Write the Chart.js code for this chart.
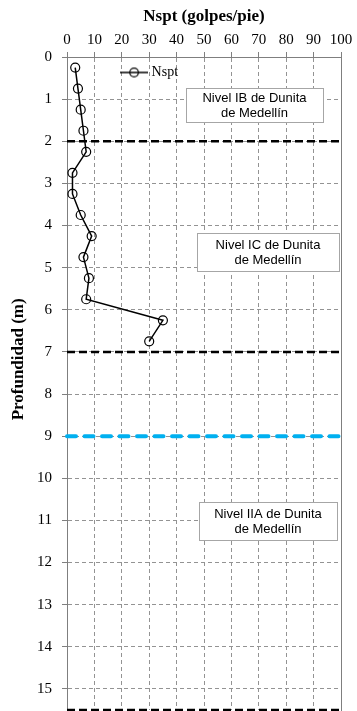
<!DOCTYPE html>
<html>
<head>
<meta charset="utf-8">
<script src="https://cdn.jsdelivr.net/npm/chart.js@4/dist/chart.umd.min.js"></script>
<style>
  html, body { margin: 0; padding: 0; background: #fff; }
  canvas { display: block; }
</style>
</head>
<body>
<canvas id="spt" width="357" height="711"></canvas>
<script>
// SPT blow counts (golpes/pie) against sample depth (m)
const depths = [0.25, 0.75, 1.25, 1.75, 2.25, 2.75, 3.25, 3.75, 4.25, 4.75, 5.25, 5.75, 6.25, 6.75];
const nspt   = [3, 4, 5, 6, 7, 2, 2, 5, 9, 6, 8, 7, 35, 30];

// Axis tick values
const nsptTicks  = [0, 10, 20, 30, 40, 50, 60, 70, 80, 90, 100];
const depthTicks = [0, 1, 2, 3, 4, 5, 6, 7, 8, 9, 10, 11, 12, 13, 14, 15];
const depthMax = 15.5;

// Horizontal boundaries between units, and the water level
const contactDepths = [2, 7, 15.5];
const waterLevelDepth = 9;

// Unit labels and the boxes they sit in (in axis units)
const unitNames = [
  ['Nivel IB de Dunita', 'de Medellín'],
  ['Nivel IC de Dunita', 'de Medellín'],
  ['Nivel IIA de Dunita', 'de Medellín']
];
const unitBoxes = [
  { x0: 43.4, x1: 93.5, y0: 0.73, y1: 1.54 },
  { x0: 47.5, x1: 99.4, y0: 4.18, y1: 5.08 },
  { x0: 48.2, x1: 98.6, y0: 10.57, y1: 11.46 }
];

const SERIF = '"Liberation Serif", "Times New Roman", serif';
const SANS = '"Liberation Sans", Arial, sans-serif';
const GRID = '#939393';
const AXIS = '#7f7f7f';

// Line-with-circle swatch used as the legend marker
function legendSwatch() {
  const c = document.createElement('canvas');
  c.width = 28; c.height = 12;
  const g = c.getContext('2d');
  g.strokeStyle = '#000';
  g.lineWidth = 1.5;
  g.beginPath(); g.moveTo(0, 6); g.lineTo(28, 6); g.stroke();
  g.lineWidth = 1.2;
  g.beginPath(); g.arc(14, 6, 4.3, 0, Math.PI * 2); g.stroke();
  return c;
}
const swatch = legendSwatch();

function hLine(depth) {
  return [{ x: 0, y: depth }, { x: 100, y: depth }];
}

const datasets = [
  {
    label: 'Nspt',
    data: depths.map((d, i) => ({ x: nspt[i], y: d })),
    showLine: true,
    borderColor: '#000',
    borderWidth: 1.5,
    pointRadius: 4.5,
    pointBorderWidth: 1.2,
    pointBorderColor: '#000',
    pointBackgroundColor: 'rgba(0,0,0,0)',
    order: 0
  },
  ...contactDepths.map(d => ({
    label: 'contact',
    data: hLine(d),
    showLine: true,
    borderColor: '#000',
    borderWidth: 2.5,
    borderDash: [8, 4],
    pointRadius: 0,
    clip: false,
    order: 1
  })),
  {
    label: 'water',
    data: hLine(waterLevelDepth),
    showLine: true,
    borderColor: '#00B0F0',
    borderWidth: 4,
    borderDash: [9, 8.5],
    borderCapStyle: 'round',
    pointRadius: 0,
    clip: false,
    order: 1
  }
];

function zeroPadding(s) {
  s.paddingTop = 0; s.paddingBottom = 0; s.paddingLeft = 0; s.paddingRight = 0;
}

const overlay = {
  id: 'overlay',
  afterLayout(chart) {
    // place the legend inside the plot, near the top left
    const lg = chart.legend;
    const dx = chart.scales.x.getPixelForValue(17) - lg.left;
    const dy = chart.chartArea.top - 1.5 - lg.top;
    lg.left += dx; lg.right += dx;
    lg.top += dy; lg.bottom += dy;
  },
  beforeDatasetsDraw(chart) {
    const { ctx, scales: { x, y } } = chart;
    ctx.save();
    unitBoxes.forEach((b, i) => {
      const l = Math.round(x.getPixelForValue(b.x0));
      const r = Math.round(x.getPixelForValue(b.x1));
      const t = Math.round(y.getPixelForValue(b.y0));
      const bt = Math.round(y.getPixelForValue(b.y1));
      ctx.fillStyle = '#fff';
      ctx.fillRect(l, t, r - l, bt - t);
      ctx.strokeStyle = '#a6a6a6';
      ctx.lineWidth = 1;
      ctx.strokeRect(l + 0.5, t + 0.5, r - l, bt - t);
      ctx.fillStyle = '#000';
      ctx.font = '13px ' + SANS;
      ctx.textAlign = 'center';
      ctx.textBaseline = 'middle';
      const cx = (l + r) / 2, cy = (t + bt) / 2 + 0.5;
      const lines = unitNames[i];
      lines.forEach((s, j) => ctx.fillText(s, cx, cy + (j - (lines.length - 1) / 2) * 15));
    });
    ctx.restore();
  },
  afterDraw(chart) {
    const { ctx, chartArea } = chart;
    ctx.save();
    ctx.fillStyle = '#000';
    ctx.font = 'bold 17px ' + SERIF;
    ctx.textAlign = 'center';
    ctx.textBaseline = 'middle';
    ctx.translate(18.5, chartArea.top + (chartArea.bottom - chartArea.top) * 0.463);
    ctx.rotate(-Math.PI / 2);
    ctx.fillText('Profundidad (m)', 0, 0);
    ctx.restore();
  }
};

new Chart(document.getElementById('spt'), {
  type: 'scatter',
  data: { datasets },
  plugins: [overlay],
  options: {
    responsive: false,
    animation: false,
    devicePixelRatio: 1,
    layout: { autoPadding: false, padding: { left: 0, top: 0, right: 16, bottom: 1 } },
    plugins: {
      tooltip: { enabled: false },
      legend: {
        position: 'chartArea',
        align: 'start',
        labels: {
          usePointStyle: true,
          pointStyleWidth: 21,
          padding: 10,
          color: '#000',
          font: { family: SERIF, size: 14 },
          generateLabels: () => [{
            text: 'Nspt',
            pointStyle: swatch,
            fillStyle: 'rgba(0,0,0,0)',
            strokeStyle: '#000',
            lineWidth: 0,
            hidden: false,
            datasetIndex: 0,
            fontColor: '#000'
          }]
        }
      }
    },
    scales: {
      x: {
        type: 'linear',
        position: 'top',
        min: 0,
        max: 100,
        afterBuildTicks: s => { s.ticks = nsptTicks.map(v => ({ value: v })); },
        ticks: { color: '#000', font: { family: SERIF, size: 15 }, padding: 3, maxRotation: 0 },
        grid: { color: GRID, lineWidth: 1, tickLength: 5, tickColor: AXIS },
        border: { display: true, color: AXIS, width: 1, dash: [4, 3] },
        title: {
          display: true,
          text: 'Nspt (golpes/pie)',
          color: '#000',
          font: { family: SERIF, size: 17, weight: 'bold' },
          padding: { top: 6, bottom: 0 }
        },
        afterFit: s => { s.height = 57; zeroPadding(s); }
      },
      y: {
        type: 'linear',
        position: 'left',
        reverse: true,
        min: 0,
        max: depthMax,
        afterBuildTicks: s => { s.ticks = depthTicks.map(v => ({ value: v })); },
        ticks: { color: '#000', font: { family: SERIF, size: 15 }, padding: 10 },
        grid: { color: GRID, lineWidth: 1, tickLength: 5, tickColor: AXIS },
        border: { display: true, color: AXIS, width: 1, dash: [4, 3] },
        afterFit: s => { s.width = 67; zeroPadding(s); }
      },
      yRight: {
        type: 'linear',
        position: 'right',
        reverse: true,
        min: 0,
        max: depthMax,
        grid: { display: false },
        ticks: { display: false },
        border: { display: true, color: AXIS, width: 1 },
        afterFit: s => { s.width = 0; zeroPadding(s); }
      }
    }
  }
});
</script>
</body>
</html>
